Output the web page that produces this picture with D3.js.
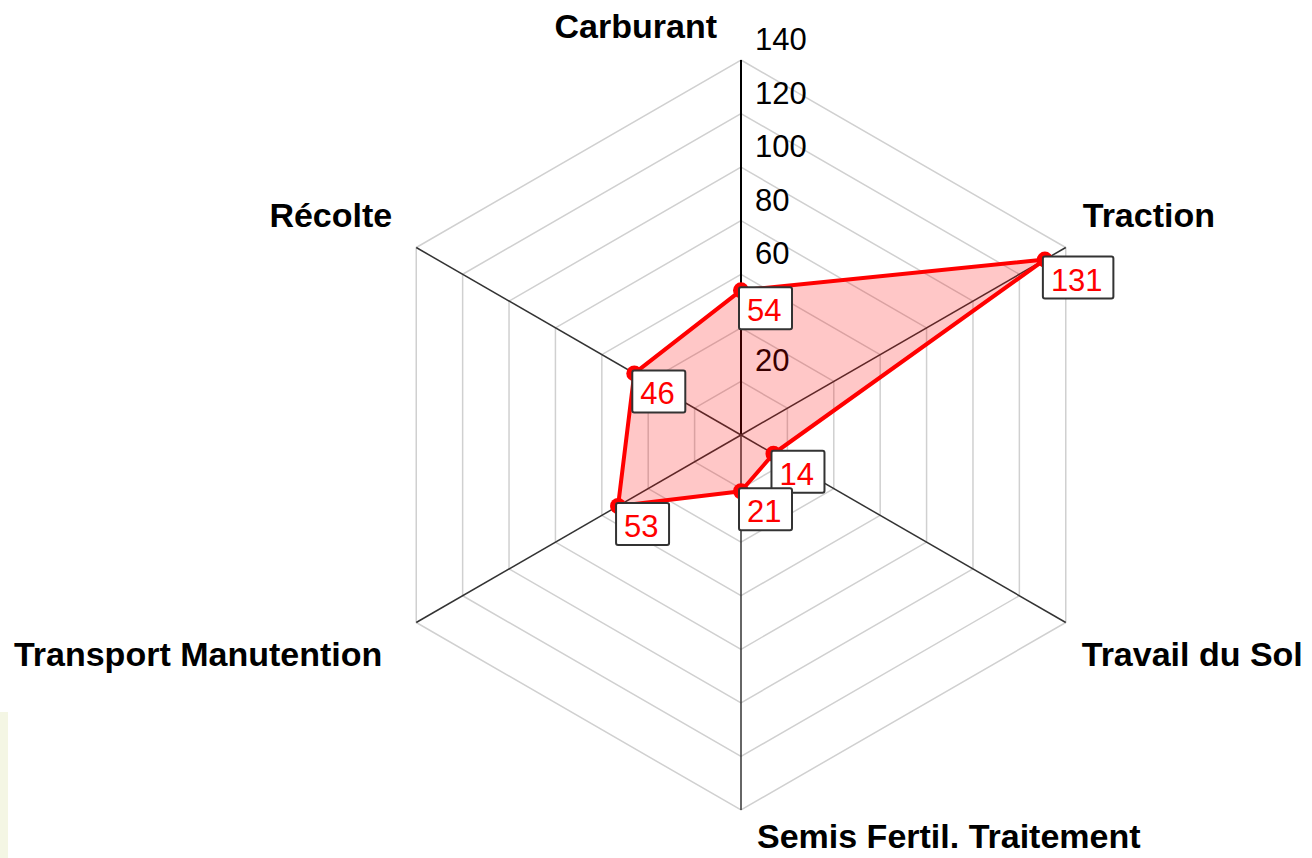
<!DOCTYPE html>
<html>
<head>
<meta charset="utf-8">
<script src="https://cdn.jsdelivr.net/npm/d3@7"></script>
<style>
  body { margin: 0; background: #fff; }
  #radar { width: 1312px; height: 858px; }
</style>
</head>
<body>
<div id="radar"></div>
<script>
// categories in clockwise order starting from the top
let categories = ["Carburant", "Traction", "Travail du Sol", "Semis Fertil. Traitement", "Transport Manutention", "Récolte"]
let values = [54, 131, 14, 21, 53, 46]
let ticks = [20, 40, 60, 80, 100, 120, 140]
// 40 sits under the "54" box in the original, so it is not shown
let tickLabels = [20, 60, 80, 100, 120, 140]

let width = 1312
let height = 858
let cx = 741
let cy = 435
let radius = 375

var svg = d3.select("#radar")
            .append("svg")
            .attr("width", width)
            .attr("height", height)

// faint strip on the left edge of the screenshot
svg.append("rect")
    .attr("x", 0).attr("y", 712)
    .attr("width", 8).attr("height", height - 712)
    .attr("fill", "#f4f6e4")

var rScale = d3.scaleLinear()
    .domain([0, d3.max(ticks)])
    .range([0, radius])

var angle = d3.scalePoint()
    .domain(categories)
    .range([0, 2 * Math.PI * (categories.length - 1) / categories.length])

function pos(cat, v){
    let a = angle(cat)
    let r = rScale(v)
    return [cx + r * Math.sin(a), cy - r * Math.cos(a)]
}

// rings
svg.append("g").attr("class", "rings")
    .selectAll("polygon")
    .data(ticks)
    .enter()
    .append("polygon")
    .attr("points", function(t){
        return categories.map(function(c){ return pos(c, t).join(",") }).join(" ")
    })
    .attr("fill", "none")
    .attr("stroke", "#d0d0d0")
    .attr("stroke-width", 1.5)

// axes
svg.append("g").attr("class", "axes")
    .selectAll("line")
    .data(categories)
    .enter()
    .append("line")
    .attr("x1", cx).attr("y1", cy)
    .attr("x2", function(c){ return pos(c, d3.max(ticks))[0] })
    .attr("y2", function(c){ return pos(c, d3.max(ticks))[1] })
    .attr("stroke", function(c, i){ return i === 0 ? "#000" : "#333" })
    .attr("stroke-width", function(c, i){ return i === 0 ? 2 : 1.5 })

// tick labels along the top axis
svg.append("g").attr("class", "tickText")
    .selectAll("text")
    .data(tickLabels)
    .enter()
    .append("text")
    .attr("x", cx + 14)
    .attr("y", function(t){ return cy - rScale(t) - 10 })
    .attr("font-family", "Liberation Sans, Arial, sans-serif")
    .attr("font-size", 31)
    .attr("fill", "#000")
    .text(function(t){ return t })

// category labels
let labelOffset = [
    {dx: -24, dy: -22, anchor: "end"},
    {dx: 17, dy: -21, anchor: "start"},
    {dx: 16, dy: 43, anchor: "start"},
    {dx: 16, dy: 38, anchor: "start"},
    {dx: -34, dy: 43, anchor: "end"},
    {dx: -24, dy: -21, anchor: "end"}
]

svg.append("g").attr("class", "catText")
    .selectAll("text")
    .data(categories)
    .enter()
    .append("text")
    .attr("x", function(c, i){ return pos(c, d3.max(ticks))[0] + labelOffset[i].dx })
    .attr("y", function(c, i){ return pos(c, d3.max(ticks))[1] + labelOffset[i].dy })
    .attr("text-anchor", function(c, i){ return labelOffset[i].anchor })
    .attr("font-family", "Liberation Sans, Arial, sans-serif")
    .attr("font-weight", "bold")
    .attr("font-size", 34)
    .attr("fill", "#000")
    .text(function(c){ return c })

// the data shape
let pts = categories.map(function(c, i){ return pos(c, values[i]) })

svg.append("polygon")
    .attr("points", pts.map(function(p){ return p.join(",") }).join(" "))
    .attr("fill", "#ff0000")
    .attr("fill-opacity", 0.22)

svg.append("polygon")
    .attr("points", pts.map(function(p){ return p.join(",") }).join(" "))
    .attr("fill", "none")
    .attr("stroke", "#ff0000")
    .attr("stroke-width", 4)
    .attr("stroke-linejoin", "round")

svg.append("g").selectAll("circle")
    .data(pts)
    .enter()
    .append("circle")
    .attr("cx", function(p){ return p[0] })
    .attr("cy", function(p){ return p[1] })
    .attr("r", 8)
    .attr("fill", "#ff0000")

// value boxes
var boxes = svg.append("g").attr("class", "valueBoxes")
    .selectAll("g")
    .data(values)
    .enter()
    .append("g")
    .attr("transform", function(v, i){
        return `translate(${pts[i][0] - 2}, ${pts[i][1] - 3})`
    })

boxes.append("rect")
    .attr("width", function(v){ return String(v).length * 17.5 + 18 })
    .attr("height", 42)
    .attr("rx", 2)
    .attr("fill", "#fff")
    .attr("stroke", "#333")
    .attr("stroke-width", 2)

boxes.append("text")
    .attr("x", 8)
    .attr("y", 34)
    .attr("font-family", "Liberation Sans, Arial, sans-serif")
    .attr("font-size", 31)
    .attr("fill", "#ff0000")
    .text(function(v){ return v })
</script>
</body>
</html>
